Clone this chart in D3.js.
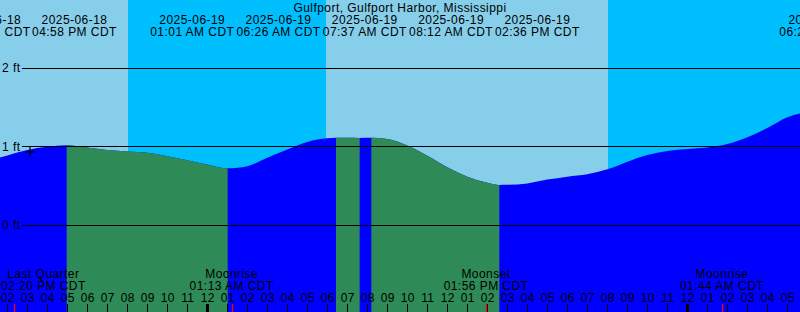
<!DOCTYPE html>
<html>
<head>
<meta charset="utf-8">
<script src="https://cdn.jsdelivr.net/npm/d3@7"></script>
<style>
body { margin: 0; background: #fff; }
svg { display: block; font-family: "Liberation Sans", Arial, sans-serif; font-size: 12px; letter-spacing: 0.45px; }
</style>
</head>
<body>
<svg id="chart" width="800" height="312"></svg>
<script>
var title = "Gulfport, Gulfport Harbor, Mississippi";

// tide heights (ft, CDT), roughly hourly
var tideTimes = ["2025-06-18 14:00", "2025-06-18 15:00", "2025-06-18 16:00", "2025-06-18 18:00",
    "2025-06-18 19:00", "2025-06-18 20:00", "2025-06-18 21:00", "2025-06-18 22:00", "2025-06-18 23:00",
    "2025-06-19 00:00", "2025-06-19 02:00", "2025-06-19 03:00", "2025-06-19 04:00", "2025-06-19 05:00",
    "2025-06-19 06:00", "2025-06-19 07:00", "2025-06-19 09:00", "2025-06-19 10:00", "2025-06-19 11:00",
    "2025-06-19 12:00", "2025-06-19 13:00", "2025-06-19 14:00", "2025-06-19 15:00", "2025-06-19 16:00",
    "2025-06-19 17:00", "2025-06-19 18:00", "2025-06-19 19:00", "2025-06-19 20:00", "2025-06-19 21:00",
    "2025-06-19 22:00", "2025-06-19 23:00", "2025-06-20 00:00", "2025-06-20 01:00", "2025-06-20 02:00",
    "2025-06-20 03:00", "2025-06-20 04:00", "2025-06-20 05:00", "2025-06-20 06:00"];
var tideFeet = [0.89, 0.96, 1.00, 0.99,
    0.96, 0.94, 0.925, 0.88, 0.83,
    0.775, 0.753, 0.86, 0.966, 1.062,
    1.108, 1.114, 1.098, 1.016, 0.885,
    0.74, 0.62, 0.542, 0.515, 0.533,
    0.582, 0.62, 0.651, 0.713, 0.81,
    0.895, 0.947, 0.973, 0.992, 1.036,
    1.123, 1.238, 1.376, 1.436];

// highs and lows
var extremeTimes = ["2025-06-18 12:50", "2025-06-18 16:58", "2025-06-19 01:01", "2025-06-19 06:26",
    "2025-06-19 07:37", "2025-06-19 08:12", "2025-06-19 14:36", "2025-06-20 06:24"];
var extremeFeet = [0.80, 1.02, 0.726, 1.115, 1.112, 1.115, 0.513, 1.44];
var extremeKind = ["low", "high", "low", "high", "low", "high", "low", "high"];

var sunTimes = ["2025-06-18 20:02", "2025-06-19 05:56", "2025-06-19 20:02", "2025-06-20 05:56"];
var sunKind = ["set", "rise", "set", "rise"];

var moonTimes = ["2025-06-18 14:20", "2025-06-19 01:13", "2025-06-19 13:56", "2025-06-20 01:44"];
var moonNames = ["Last Quarter", "Moonrise", "Moonset", "Moonrise"];

var footTicks = [0, 1, 2];
var nowTime = "2025-06-18 15:08", nowFeet = 0.935;

var W = 800, H = 312;
var parse = d3.utcParse("%Y-%m-%d %H:%M");
var fmtDate = d3.utcFormat("%Y-%m-%d"),
    fmtTime = d3.utcFormat("%I:%M %p"),
    fmtHour = d3.utcFormat("%I");

var x = d3.scaleUtc()
    .domain([parse("2025-06-18 13:38"), parse("2025-06-20 05:38")])
    .range([0, W]);
var y = d3.scaleLinear().domain([0, 2]).range([225.3, 68.3]);

var svg = d3.select("#chart");

// merge tide readings and extremes into one curve
var pts = tideTimes.map(function(t, i){ return {t: parse(t), v: tideFeet[i]}; })
    .concat(extremeTimes.map(function(t, i){ return {t: parse(t), v: extremeFeet[i]}; }))
    .sort(function(a, b){ return a.t - b.t; });

// sky: day light, night deeper
svg.append("rect").attr("width", W).attr("height", H).attr("fill", "#87CEEB");
var nights = [], start = null;
sunTimes.forEach(function(t, i){
    if (sunKind[i] == "set") start = parse(t);
    else { nights.push([start || x.domain()[0], parse(t)]); start = null; }
});
if (start) nights.push([start, x.domain()[1]]);
svg.selectAll("rect.night").data(nights).enter().append("rect")
    .attr("class", "night")
    .attr("x", function(d){ return x(d[0]); })
    .attr("width", function(d){ return x(d[1]) - x(d[0]); })
    .attr("y", 0).attr("height", H)
    .attr("fill", "#00BFFF");

// falling stretches (high -> low) get the green fill
var falls = [];
extremeTimes.forEach(function(t, i){
    if (extremeKind[i] == "high") {
        var end = i + 1 < extremeTimes.length ? parse(extremeTimes[i + 1]) : x.domain()[1];
        falls.push([parse(t), end]);
    }
});
if (extremeKind[0] == "low") falls.unshift([x.domain()[0], parse(extremeTimes[0])]);

svg.append("clipPath").attr("id", "fallclip")
    .selectAll("rect").data(falls).enter().append("rect")
    .attr("x", function(d){ return x(d[0]); })
    .attr("width", function(d){ return Math.max(0, x(d[1]) - x(d[0])); })
    .attr("y", 0).attr("height", H);

var area = d3.area()
    .x(function(d){ return x(d.t); })
    .y0(H)
    .y1(function(d){ return y(d.v); })
    .curve(d3.curveMonotoneX);

svg.append("path").datum(pts).attr("d", area).attr("fill", "#0000FF");
svg.append("path").datum(pts).attr("d", area).attr("fill", "#2E8B57")
    .attr("clip-path", "url(#fallclip)");

// foot lines
footTicks.forEach(function(v){
    var yy = Math.floor(y(v)) + 0.5;
    svg.append("line").attr("x1", 22).attr("x2", W).attr("y1", yy).attr("y2", yy)
        .attr("stroke", "#000").attr("stroke-width", 1);
    svg.append("text").attr("x", 2).attr("y", y(v) + 3.8).text(v + " ft");
});

// marker for the current time
var nx = x(parse(nowTime)), ny = y(nowFeet);
svg.append("path")
    .attr("d", "M" + (nx - 4.5) + "," + ny + "H" + (nx + 4.5) + "M" + nx + "," + (ny - 5) + "V" + (ny + 5))
    .attr("stroke", "#000").attr("stroke-width", 1.2).attr("fill", "none");

// title
svg.append("text").attr("x", W / 2).attr("y", 12).attr("text-anchor", "middle").text(title);

// header labels for highs and lows, spread so they don't collide
function measure(str){
    var t = svg.append("text").text(str);
    var w = t.node().getComputedTextLength();
    t.remove();
    return w;
}
function spread(xs, w){
    var groups = [];
    xs.forEach(function(xx){
        groups.push({sum: xx, n: 1});
        while (groups.length > 1) {
            var b = groups[groups.length - 1], a = groups[groups.length - 2];
            var aEnd = a.sum / a.n + (a.n - 1) * w / 2;
            var bStart = b.sum / b.n - (b.n - 1) * w / 2;
            if (bStart - aEnd >= w) break;
            a.sum += b.sum; a.n += b.n; groups.pop();
        }
    });
    var out = [];
    groups.forEach(function(g){
        var c = g.sum / g.n;
        for (var k = 0; k < g.n; k++) out.push(c + (k - (g.n - 1) / 2) * w);
    });
    return out;
}
var exDates = extremeTimes.map(parse);
var labW = d3.max(exDates, function(d){ return measure(fmtTime(d) + " CDT"); }) + 1.5;
var labX = spread(exDates.map(function(d){ return x(d); }), labW);
var head = svg.selectAll("g.ex").data(exDates).enter().append("g").attr("class", "ex")
    .attr("transform", function(d, i){ return "translate(" + (labX[i] + 6) + ",0)"; })
    .attr("text-anchor", "middle");
head.append("text").attr("y", 24.3).text(function(d){ return fmtDate(d); });
head.append("text").attr("y", 35.8).text(function(d){ return fmtTime(d) + " CDT"; });

// hour ticks along the bottom
var hours = x.ticks(d3.utcHour.every(1));
svg.selectAll("line.hr").data(hours).enter().append("line").attr("class", "hr")
    .attr("x1", function(d){ return Math.round(x(d)) + 0.5; })
    .attr("x2", function(d){ return Math.round(x(d)) + 0.5; })
    .attr("y1", 304).attr("y2", H)
    .attr("stroke", "#000")
    .attr("stroke-width", function(d){ return d.getUTCHours() == 0 ? 3 : 1; });
svg.selectAll("text.hr").data(hours).enter().append("text").attr("class", "hr")
    .attr("x", function(d){ return x(d) + 0.5; })
    .attr("y", 301.7)
    .attr("text-anchor", "middle")
    .text(function(d){ return fmtHour(d); });

// moon events
var moonDates = moonTimes.map(parse);
svg.selectAll("line.moon").data(moonDates).enter().append("line").attr("class", "moon")
    .attr("x1", function(d){ return Math.round(x(d)) + 0.5; })
    .attr("x2", function(d){ return Math.round(x(d)) + 0.5; })
    .attr("y1", 304).attr("y2", H)
    .attr("stroke", "#FF0000").attr("stroke-width", 1.3);
var moon = svg.selectAll("g.moon").data(moonDates).enter().append("g").attr("class", "moon")
    .attr("text-anchor", "middle")
    .attr("transform", function(d, i){
        var w = Math.max(measure(moonNames[i]), measure(fmtTime(d) + " CDT"));
        var c = Math.max(w / 2 + 1, Math.min(W - w / 2, x(d)));
        return "translate(" + c + ",0)";
    });
moon.append("text").attr("y", 278.3).text(function(d, i){ return moonNames[i]; });
moon.append("text").attr("y", 290).text(function(d){ return fmtTime(d) + " CDT"; });
</script>
</body>
</html>
